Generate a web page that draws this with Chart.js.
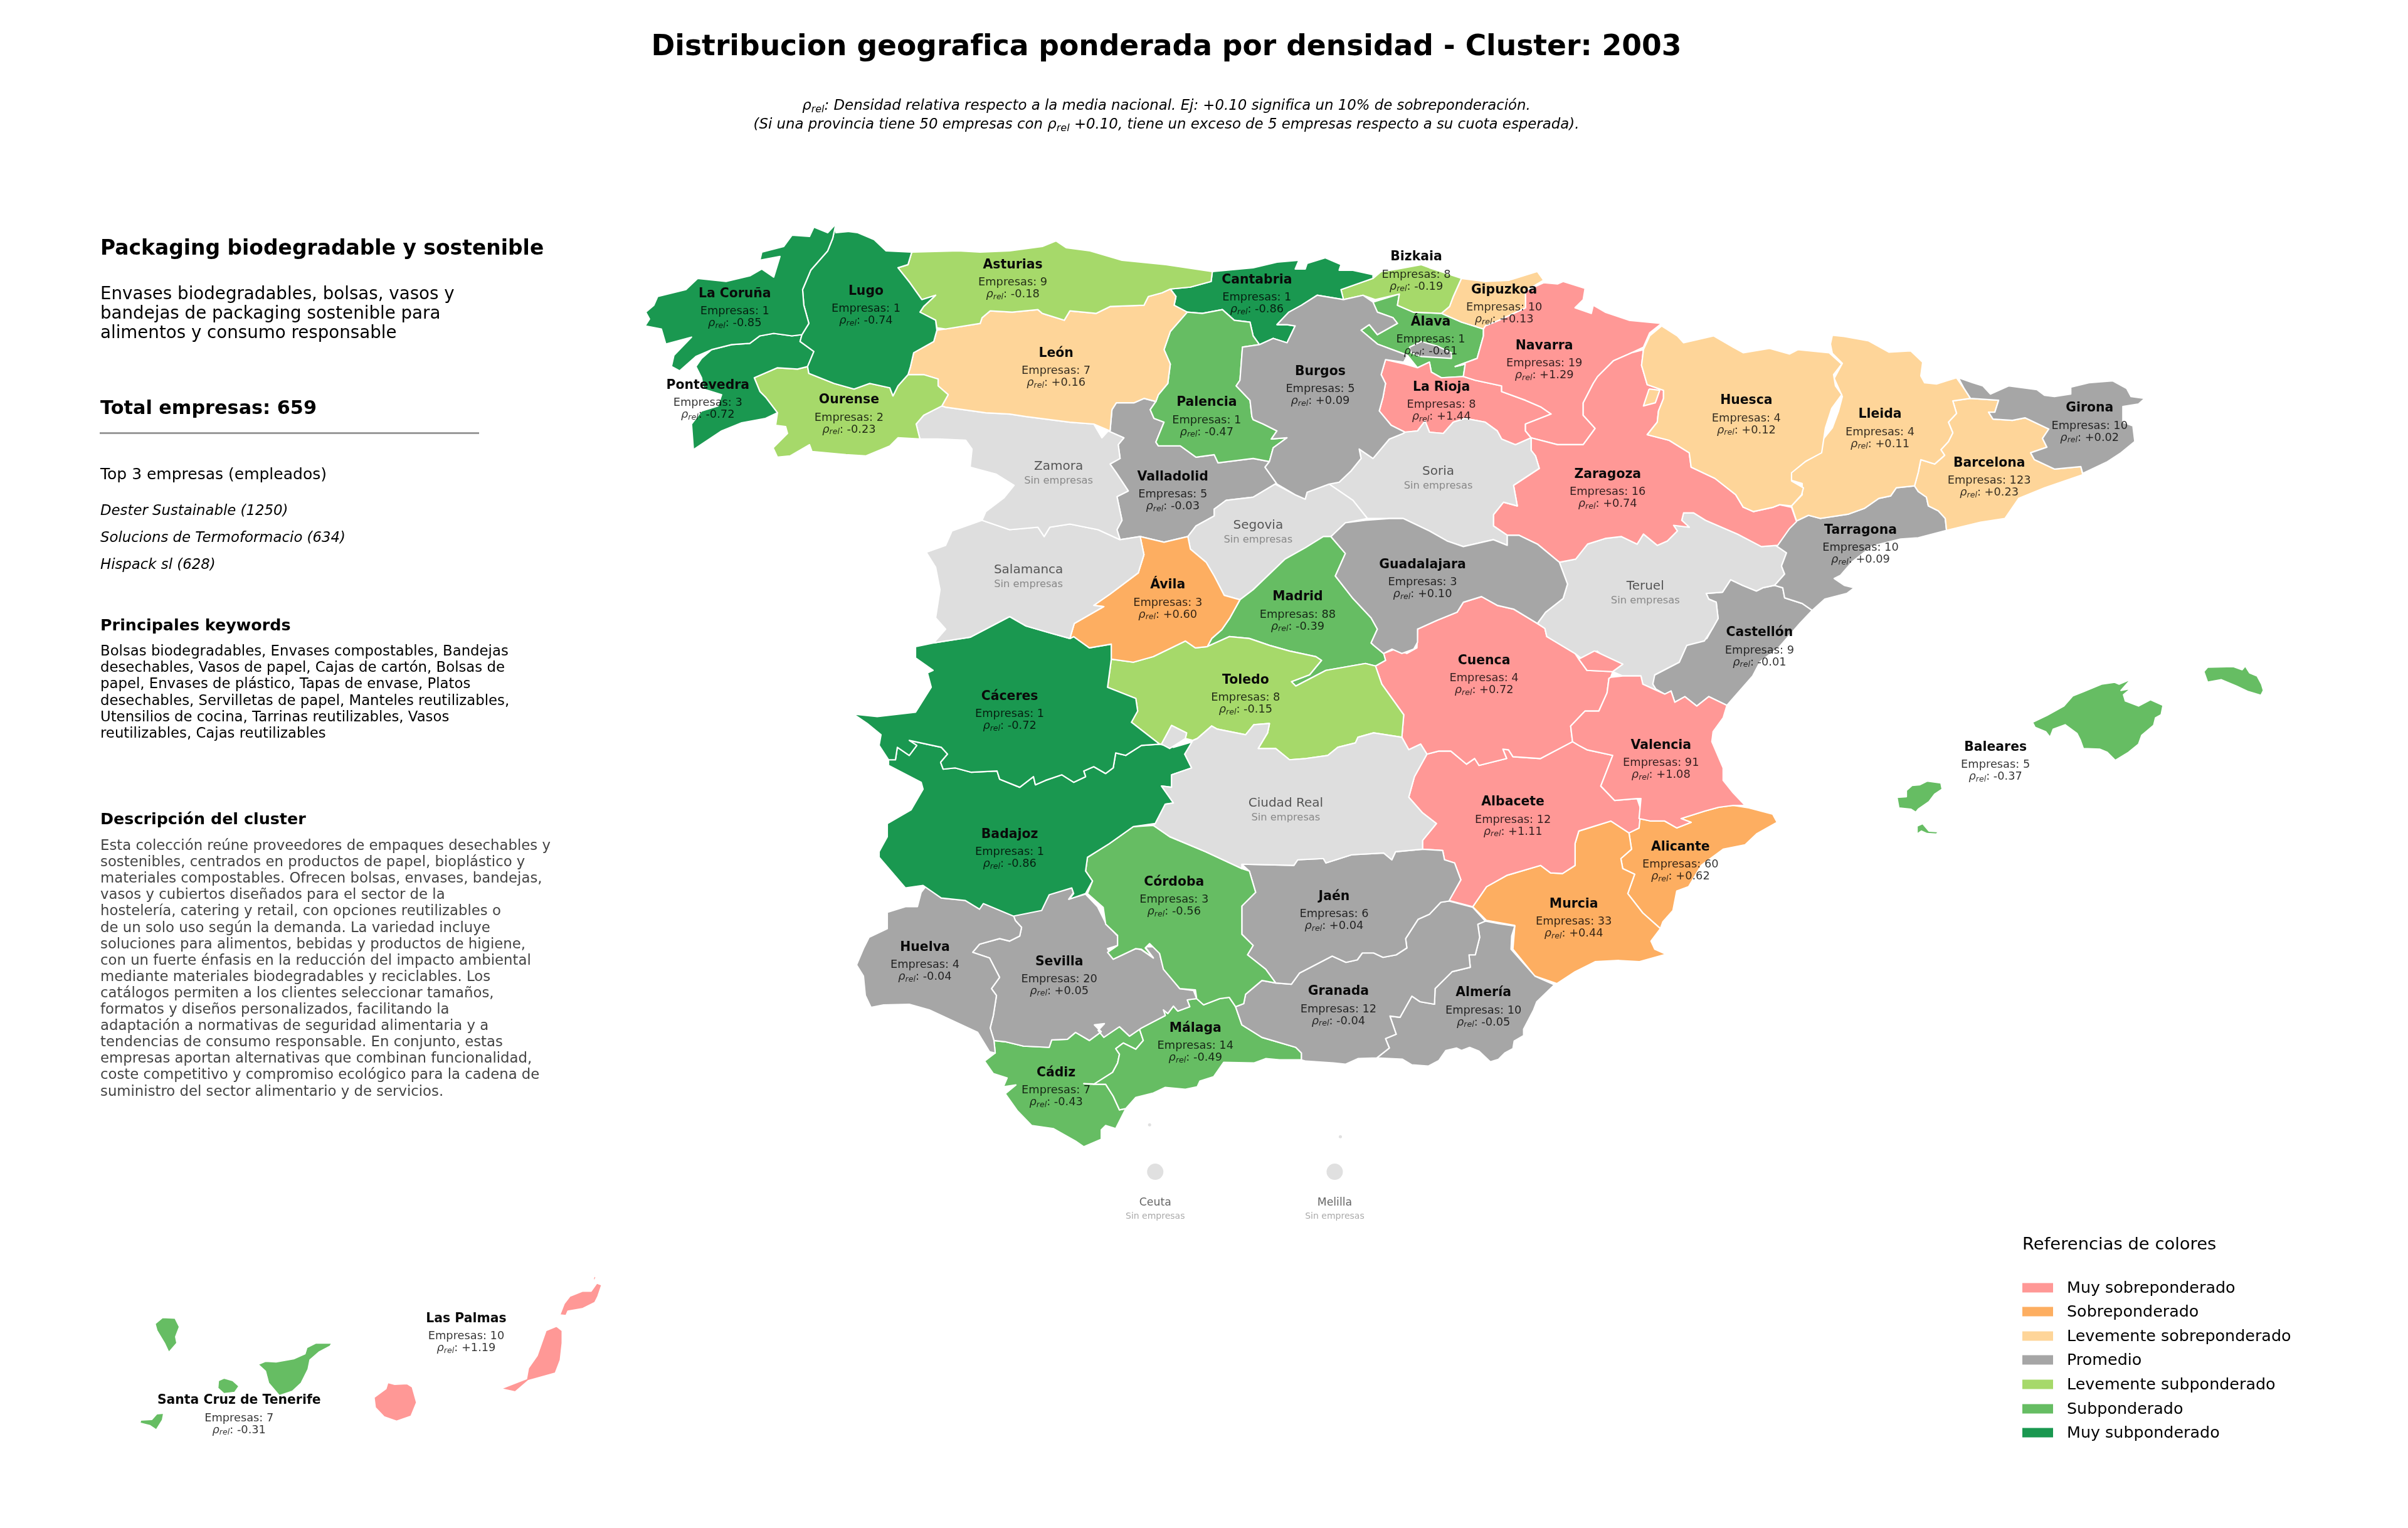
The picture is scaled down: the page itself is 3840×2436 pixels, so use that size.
<!DOCTYPE html>
<html lang="es">
<head>
<meta charset="utf-8">
<title>Distribucion geografica ponderada por densidad</title>
<script src="https://cdn.jsdelivr.net/npm/chart.js@4/dist/chart.umd.min.js"></script>
<style>
  html, body { margin: 0; background: #fff; }
  #page { position: relative; width: 3840px; height: 2436px; overflow: hidden; font-family: "DejaVu Sans", sans-serif; color: #000; }
  #map { position: absolute; left: 0; top: 0; }
  .t { position: absolute; white-space: nowrap; transform: translateY(-50%); line-height: 1; }
  .c { transform: translate(-50%, -50%); }
  sub { font-size: 70%; line-height: 0; vertical-align: -0.25em; }
  .swatch { position: absolute; left: 3225px; width: 49px; height: 15px; transform: translateY(-50%); }
</style>
</head>
<body>
<div id="page"><canvas id="map" width="3840" height="2436"></canvas></div>
<script>
const laCoruna = [[1335,353],[1322,367],[1300,358],[1293,373],[1265,371],[1252,389],[1217,398],[1214,411],[1246,405],[1236,438],[1217,425],[1198,436],[1160,445],[1115,440],[1096,458],[1051,469],[1045,483],[1032,494],[1038,505],[1031,516],[1057,521],[1064,545],[1105,534],[1077,563],[1073,581],[1086,588],[1112,565],[1137,554],[1169,546],[1198,544],[1214,532],[1236,528],[1265,532],[1281,530],[1292,512],[1284,483],[1282,458],[1295,427],[1322,396],[1330,376]];
const lugo = [[1335,353],[1335,367],[1354,365],[1370,367],[1396,378],[1415,396],[1456,398],[1450,418],[1434,423],[1453,447],[1472,474],[1494,467],[1475,485],[1469,494],[1494,507],[1496,523],[1491,541],[1459,559],[1454,581],[1450,594],[1434,612],[1426,628],[1421,615],[1389,608],[1364,617],[1332,608],[1292,592],[1290,581],[1300,557],[1278,541],[1281,530],[1292,512],[1284,483],[1282,458],[1295,427],[1322,396],[1330,376]];
const pontevedra = [[1137,554],[1121,568],[1112,581],[1121,599],[1124,617],[1153,626],[1147,644],[1121,652],[1105,673],[1108,714],[1153,684],[1185,671],[1223,664],[1242,655],[1223,630],[1214,621],[1205,599],[1242,583],[1274,585],[1290,581],[1300,557],[1278,541],[1281,530],[1265,532],[1236,528],[1214,532],[1198,544],[1169,546]];
const ourense = [[1205,599],[1242,583],[1274,585],[1290,581],[1292,592],[1332,608],[1364,617],[1389,608],[1421,615],[1426,628],[1434,612],[1450,594],[1475,594],[1498,601],[1498,612],[1514,626],[1504,644],[1475,659],[1463,673],[1469,697],[1434,695],[1421,708],[1383,724],[1351,722],[1297,717],[1293,706],[1262,724],[1242,726],[1235,711],[1258,688],[1255,677],[1239,675],[1242,655],[1223,630],[1214,621]];
const asturias = [[1456,398],[1530,396],[1565,398],[1612,396],[1664,389],[1686,380],[1702,391],[1740,396],[1791,411],[1861,418],[1935,429],[1933,445],[1900,454],[1868,457],[1855,463],[1833,469],[1826,483],[1772,485],[1750,496],[1708,492],[1699,507],[1664,496],[1657,490],[1616,494],[1581,492],[1568,503],[1565,512],[1510,521],[1496,519],[1494,507],[1469,494],[1475,485],[1494,467],[1472,474],[1453,447],[1434,423],[1450,418]];
const leon = [[1510,521],[1565,512],[1568,503],[1581,492],[1616,494],[1657,490],[1664,496],[1699,507],[1708,492],[1750,496],[1772,485],[1826,483],[1833,469],[1855,463],[1868,457],[1877,469],[1874,483],[1895,494],[1868,525],[1858,554],[1868,577],[1864,608],[1849,626],[1845,637],[1826,632],[1810,639],[1782,639],[1775,650],[1772,684],[1746,673],[1708,670],[1638,661],[1612,657],[1574,655],[1510,646],[1504,644],[1514,626],[1498,612],[1498,601],[1475,594],[1450,594],[1454,581],[1459,559],[1491,541],[1496,523]];
const zamora = [[1504,644],[1510,646],[1574,655],[1612,657],[1638,661],[1708,670],[1746,673],[1759,695],[1769,684],[1794,695],[1785,706],[1788,728],[1772,737],[1782,751],[1801,780],[1783,789],[1791,827],[1783,842],[1788,858],[1753,842],[1708,833],[1676,838],[1667,853],[1657,838],[1612,842],[1568,827],[1574,813],[1603,791],[1619,771],[1590,753],[1549,742],[1552,713],[1542,699],[1498,697],[1469,697],[1463,673],[1475,659]];
const salamanca = [[1568,827],[1612,842],[1657,838],[1667,853],[1676,838],[1708,833],[1753,842],[1788,858],[1820,853],[1826,882],[1817,911],[1772,945],[1746,963],[1762,965],[1715,992],[1708,1016],[1676,1007],[1638,996],[1612,981],[1549,1014],[1491,1023],[1510,1001],[1494,983],[1501,938],[1494,902],[1479,878],[1510,867],[1520,844]];
const avila = [[1820,853],[1858,862],[1896,853],[1900,873],[1925,894],[1938,916],[1954,947],[1979,954],[1963,983],[1950,1002],[1934,1016],[1927,1029],[1908,1031],[1892,1020],[1841,1045],[1809,1054],[1774,1049],[1774,1025],[1739,1031],[1714,1013],[1708,1016],[1715,992],[1762,965],[1746,963],[1772,945],[1817,911],[1826,882]];
const caceres = [[1462,1029],[1491,1023],[1549,1014],[1612,981],[1638,996],[1676,1007],[1708,1016],[1714,1013],[1739,1031],[1774,1025],[1774,1049],[1768,1094],[1813,1112],[1816,1132],[1806,1150],[1851,1185],[1822,1187],[1797,1203],[1781,1199],[1777,1223],[1765,1232],[1746,1221],[1730,1228],[1733,1237],[1714,1246],[1695,1234],[1669,1243],[1653,1250],[1650,1237],[1628,1254],[1596,1241],[1592,1228],[1551,1230],[1525,1223],[1506,1225],[1502,1214],[1513,1201],[1503,1190],[1452,1179],[1464,1187],[1452,1203],[1433,1190],[1430,1210],[1419,1210],[1404,1187],[1407,1170],[1385,1152],[1363,1137],[1401,1141],[1462,1134],[1487,1094],[1481,1071],[1490,1067],[1462,1047]];
const badajoz = [[1419,1210],[1419,1219],[1471,1246],[1474,1257],[1455,1290],[1417,1312],[1417,1333],[1404,1357],[1404,1366],[1446,1415],[1474,1411],[1503,1431],[1541,1435],[1564,1449],[1570,1440],[1618,1460],[1663,1451],[1675,1426],[1711,1415],[1714,1424],[1707,1433],[1733,1424],[1744,1404],[1733,1388],[1736,1366],[1771,1344],[1809,1317],[1844,1312],[1860,1281],[1873,1279],[1854,1252],[1870,1254],[1870,1234],[1902,1223],[1891,1201],[1904,1181],[1873,1190],[1851,1185],[1822,1187],[1797,1203],[1781,1199],[1777,1223],[1765,1232],[1746,1221],[1730,1228],[1733,1237],[1714,1246],[1695,1234],[1669,1243],[1653,1250],[1650,1237],[1628,1254],[1596,1241],[1592,1228],[1551,1230],[1525,1223],[1506,1225],[1502,1214],[1513,1201],[1503,1190],[1452,1179],[1464,1187],[1452,1203],[1433,1190],[1430,1210]];
const toledo = [[1774,1049],[1809,1054],[1841,1045],[1892,1020],[1908,1031],[1927,1029],[1962,1013],[1994,1016],[2026,1027],[2058,1036],[2100,1045],[2109,1051],[2090,1074],[2061,1085],[2068,1092],[2116,1067],[2179,1056],[2195,1060],[2205,1089],[2240,1138],[2237,1174],[2192,1167],[2167,1174],[2163,1183],[2135,1190],[2119,1203],[2084,1208],[2058,1210],[2036,1192],[2008,1192],[2023,1167],[2026,1152],[2001,1154],[1988,1170],[1943,1161],[1934,1156],[1911,1176],[1904,1179],[1892,1176],[1894,1167],[1870,1155],[1854,1185],[1851,1185],[1806,1150],[1816,1132],[1813,1112],[1768,1094]];
const ciudadReal = [[1904,1179],[1911,1176],[1934,1156],[1943,1161],[1988,1170],[2001,1154],[2026,1152],[2023,1167],[2008,1192],[2036,1192],[2058,1210],[2084,1208],[2119,1203],[2135,1190],[2163,1183],[2167,1174],[2192,1167],[2237,1174],[2248,1194],[2267,1185],[2277,1201],[2257,1237],[2248,1270],[2270,1295],[2292,1312],[2270,1339],[2270,1353],[2227,1357],[2221,1370],[2208,1359],[2157,1362],[2116,1375],[2112,1368],[2071,1370],[2065,1379],[1982,1377],[1982,1384],[1924,1357],[1867,1333],[1841,1315],[1844,1312],[1860,1281],[1873,1279],[1854,1252],[1870,1254],[1870,1234],[1902,1223],[1891,1201],null,[1870,1155],[1894,1167],[1892,1176],[1867,1192],[1854,1185]];
const cordoba = [[1809,1317],[1841,1315],[1867,1333],[1924,1357],[1982,1384],[1994,1388],[2004,1422],[1982,1444],[1982,1489],[2000,1507],[1991,1522],[2020,1545],[2036,1567],[2014,1563],[1988,1585],[1985,1600],[1972,1605],[1962,1590],[1947,1592],[1921,1602],[1910,1592],[1908,1578],[1883,1576],[1857,1545],[1851,1520],[1835,1504],[1828,1511],[1841,1527],[1822,1513],[1813,1512],[1777,1529],[1768,1518],[1784,1507],[1784,1491],[1765,1473],[1761,1446],[1736,1424],[1744,1404],[1733,1388],[1736,1366],[1771,1344]];
const jaen = [[1982,1377],[2065,1379],[2071,1370],[2112,1368],[2116,1375],[2157,1362],[2208,1359],[2221,1370],[2227,1357],[2270,1353],[2302,1355],[2305,1370],[2321,1375],[2331,1402],[2312,1436],[2299,1438],[2281,1457],[2263,1465],[2243,1496],[2245,1511],[2228,1522],[2207,1526],[2192,1519],[2174,1519],[2166,1530],[2148,1534],[2126,1524],[2074,1551],[2061,1569],[2036,1567],[2020,1545],[1991,1522],[2000,1507],[1982,1489],[1982,1444],[2004,1422],[1994,1388]];
const granada = [[2312,1436],[2350,1446],[2370,1468],[2358,1473],[2361,1494],[2354,1522],[2344,1522],[2346,1542],[2317,1549],[2290,1576],[2289,1601],[2266,1597],[2253,1588],[2234,1622],[2218,1620],[2228,1649],[2211,1656],[2217,1671],[2197,1687],[2167,1688],[2147,1697],[2128,1695],[2084,1692],[2077,1690],[2077,1679],[2068,1670],[2014,1654],[1982,1634],[1972,1605],[1985,1600],[1988,1585],[2014,1563],[2036,1567],[2061,1569],[2074,1551],[2126,1524],[2148,1534],[2166,1530],[2174,1519],[2192,1519],[2207,1526],[2228,1522],[2245,1511],[2243,1496],[2263,1465],[2281,1457],[2299,1438]];
const almeria = [[2370,1468],[2391,1472],[2417,1476],[2412,1492],[2411,1513],[2449,1556],[2480,1570],[2452,1597],[2447,1610],[2431,1641],[2431,1651],[2416,1660],[2414,1672],[2401,1679],[2391,1689],[2378,1693],[2360,1676],[2345,1670],[2332,1675],[2324,1671],[2307,1675],[2296,1691],[2279,1700],[2253,1698],[2238,1689],[2197,1687],[2217,1671],[2211,1656],[2228,1649],[2218,1620],[2234,1622],[2253,1588],[2266,1597],[2289,1601],[2290,1576],[2317,1549],[2346,1542],[2344,1522],[2354,1522],[2361,1494],[2358,1473]];
const huelva = [[1478,1413],[1503,1431],[1545,1435],[1564,1447],[1570,1439],[1618,1459],[1621,1467],[1631,1478],[1628,1492],[1612,1500],[1596,1496],[1564,1505],[1553,1518],[1580,1527],[1596,1558],[1583,1576],[1591,1587],[1586,1619],[1581,1639],[1587,1659],[1589,1679],[1580,1677],[1561,1646],[1484,1610],[1452,1601],[1411,1602],[1391,1606],[1382,1587],[1379,1556],[1368,1538],[1379,1512],[1388,1494],[1417,1480],[1417,1454],[1446,1445],[1465,1445],[1471,1422]];
const sevilla = [[1618,1459],[1663,1449],[1675,1425],[1711,1413],[1714,1422],[1706,1433],[1733,1425],[1752,1445],[1765,1471],[1784,1492],[1784,1507],[1768,1512],[1777,1529],[1813,1512],[1822,1514],[1841,1527],[1828,1509],[1848,1509],[1857,1543],[1883,1576],[1905,1579],[1910,1592],[1895,1594],[1899,1605],[1880,1612],[1873,1604],[1864,1616],[1857,1610],[1860,1619],[1822,1639],[1803,1652],[1787,1637],[1762,1654],[1753,1643],[1763,1632],[1747,1634],[1758,1645],[1739,1659],[1717,1646],[1704,1657],[1679,1658],[1675,1670],[1634,1668],[1605,1661],[1587,1659],[1581,1639],[1586,1619],[1591,1587],[1583,1576],[1596,1558],[1580,1527],[1553,1518],[1564,1505],[1596,1496],[1612,1500],[1628,1492],[1631,1478],[1621,1467]];
const malaga = [[1895,1594],[1910,1592],[1921,1602],[1947,1592],[1962,1590],[1972,1605],[1982,1634],[2014,1654],[2068,1670],[2077,1679],[2077,1690],[2042,1690],[2020,1688],[2001,1695],[1953,1694],[1937,1717],[1915,1724],[1911,1733],[1892,1737],[1860,1734],[1841,1743],[1813,1750],[1797,1768],[1787,1770],[1777,1748],[1765,1729],[1746,1729],[1776,1710],[1784,1695],[1787,1681],[1781,1672],[1793,1663],[1813,1673],[1825,1659],[1819,1641],[1822,1639],[1860,1619],[1857,1610],[1864,1616],[1873,1604],[1880,1612],[1899,1605]];
const cadiz = [[1587,1659],[1605,1661],[1634,1668],[1675,1670],[1679,1658],[1704,1657],[1717,1646],[1739,1659],[1758,1645],[1787,1637],[1803,1652],[1819,1641],[1825,1659],[1813,1673],[1793,1663],[1781,1672],[1787,1681],[1784,1695],[1776,1710],[1746,1729],[1730,1728],[1765,1729],[1777,1748],[1787,1770],[1797,1768],[1781,1800],[1765,1795],[1758,1802],[1758,1817],[1730,1829],[1717,1820],[1682,1800],[1647,1795],[1624,1771],[1605,1744],[1622,1730],[1602,1733],[1608,1719],[1586,1712],[1572,1692],[1589,1679]];
const guadalajara = [[2124,853],[2147,831],[2179,827],[2217,824],[2239,824],[2281,844],[2309,860],[2335,869],[2383,858],[2405,867],[2405,851],[2424,851],[2453,865],[2488,894],[2501,929],[2494,952],[2466,974],[2453,992],[2415,969],[2389,963],[2364,949],[2335,958],[2325,974],[2293,987],[2262,1001],[2262,1022],[2256,1033],[2237,1040],[2221,1033],[2208,1040],[2192,1027],[2188,1023],[2198,1001],[2188,983],[2159,952],[2131,916],[2147,880]];
const madrid = [[2124,853],[2147,880],[2131,916],[2159,952],[2188,983],[2198,1001],[2188,1023],[2208,1040],[2211,1051],[2195,1060],[2179,1056],[2116,1067],[2068,1092],[2061,1085],[2090,1074],[2109,1051],[2100,1045],[2058,1036],[2026,1027],[1994,1016],[1962,1013],[1927,1029],[1934,1016],[1950,1002],[1963,983],[1979,954],[2000,938],[2051,889],[2083,871],[2112,853]];
const segovia = [[1896,853],[1909,836],[1938,820],[1938,809],[1957,795],[2000,790],[2035,769],[2067,786],[2083,793],[2086,782],[2121,769],[2159,795],[2182,824],[2147,831],[2124,853],[2112,853],[2083,871],[2051,889],[2000,938],[1979,954],[1954,947],[1938,916],[1925,894],[1900,873]];
const soria = [[2121,769],[2137,766],[2156,748],[2172,728],[2169,713],[2191,728],[2217,697],[2239,688],[2242,686],[2262,684],[2274,668],[2281,686],[2303,688],[2319,670],[2338,664],[2370,670],[2389,684],[2396,697],[2418,706],[2443,695],[2443,715],[2450,724],[2456,744],[2415,771],[2421,804],[2399,798],[2383,818],[2383,836],[2405,851],[2405,867],[2383,858],[2335,869],[2309,860],[2281,844],[2239,824],[2217,824],[2182,824],[2159,795]];
const zaragoza = [[2443,695],[2485,706],[2526,706],[2545,680],[2526,659],[2526,639],[2542,608],[2549,597],[2574,572],[2603,559],[2622,554],[2619,579],[2628,610],[2654,619],[2654,632],[2646,652],[2644,670],[2628,690],[2663,699],[2695,719],[2698,742],[2736,760],[2769,786],[2781,806],[2797,813],[2829,806],[2839,802],[2858,806],[2866,829],[2855,840],[2836,867],[2810,869],[2772,849],[2721,827],[2702,815],[2686,815],[2683,827],[2695,838],[2670,835],[2676,844],[2660,860],[2644,867],[2622,849],[2612,865],[2587,853],[2561,856],[2533,865],[2514,889],[2488,894],[2453,865],[2424,851],[2405,851],[2383,836],[2383,818],[2399,798],[2421,804],[2415,771],[2456,744],[2450,724],[2443,715]];
const huesca = [[2651,516],[2676,532],[2686,543],[2734,532],[2765,550],[2781,559],[2823,552],[2855,561],[2868,554],[2918,559],[2938,577],[2925,594],[2928,612],[2938,626],[2922,648],[2912,679],[2906,719],[2880,733],[2858,751],[2858,764],[2877,775],[2874,786],[2858,804],[2839,802],[2829,806],[2797,813],[2781,806],[2769,786],[2736,760],[2698,742],[2695,719],[2663,699],[2628,690],[2644,670],[2646,652],[2654,632],[2654,619],[2628,610],[2619,579],[2622,554],[2632,532],null,[2631,617],[2648,619],[2641,639],[2622,644]];
const lleida = [[2923,531],[2942,533],[2981,540],[3013,558],[3048,556],[3067,574],[3064,596],[3070,607],[3089,609],[3108,603],[3121,599],[3134,618],[3143,632],[3115,636],[3121,656],[3108,670],[3115,687],[3108,701],[3096,714],[3102,723],[3086,737],[3064,730],[3060,750],[3054,772],[3025,775],[3016,788],[2997,792],[2974,808],[2949,817],[2904,824],[2885,819],[2866,828],[2858,804],[2875,786],[2875,768],[2858,763],[2856,748],[2885,730],[2904,719],[2904,703],[2923,679],[2933,652],[2939,629],[2926,600],[2939,576],[2923,560],[2920,545]];
const girona = [[3124,599],[3147,607],[3163,612],[3175,625],[3204,612],[3249,618],[3261,627],[3277,629],[3303,625],[3303,614],[3332,607],[3370,604],[3392,616],[3399,629],[3421,632],[3411,641],[3386,645],[3386,670],[3402,676],[3405,701],[3383,719],[3360,734],[3322,752],[3319,741],[3277,745],[3245,730],[3239,719],[3265,710],[3258,696],[3268,681],[3249,672],[3230,663],[3210,667],[3179,665],[3172,654],[3182,654],[3188,635],[3143,632],[3134,618]];
const barcelona = [[3115,636],[3143,632],[3188,635],[3182,654],[3172,654],[3179,665],[3210,667],[3230,663],[3249,672],[3268,681],[3258,696],[3265,710],[3239,719],[3245,730],[3277,745],[3319,741],[3322,754],[3261,775],[3220,792],[3198,824],[3159,830],[3105,843],[3103,824],[3092,812],[3076,804],[3073,790],[3060,781],[3054,772],[3060,750],[3064,730],[3086,737],[3102,723],[3096,714],[3108,701],[3115,687],[3108,670],[3121,656]];
const tarragona = [[2866,828],[2885,819],[2904,824],[2949,817],[2974,808],[2997,792],[3016,788],[3025,775],[3054,772],[3060,781],[3073,790],[3076,804],[3092,812],[3103,824],[3105,843],[3060,855],[3032,857],[2987,868],[2955,893],[2936,915],[2926,920],[2942,931],[2958,935],[2946,944],[2911,953],[2891,971],[2875,960],[2847,951],[2844,935],[2831,931],[2847,913],[2842,900],[2850,879],[2834,868],[2833,857],[2853,841]];
const teruel = [[2488,894],[2514,889],[2533,865],[2561,856],[2587,853],[2612,865],[2622,849],[2644,867],[2660,860],[2676,844],[2670,835],[2695,838],[2683,827],[2686,815],[2702,815],[2721,827],[2772,849],[2810,869],[2836,867],[2834,868],[2850,879],[2842,900],[2847,913],[2831,931],[2812,935],[2802,940],[2780,931],[2761,922],[2748,942],[2722,944],[2726,953],[2738,958],[2741,984],[2732,1000],[2719,1020],[2691,1027],[2679,1054],[2640,1074],[2637,1089],[2643,1099],[2621,1089],[2618,1076],[2589,1076],[2573,1069],[2589,1057],[2567,1051],[2548,1036],[2545,1045],[2522,1047],[2513,1040],[2468,1013],[2465,1000],[2453,992],[2466,974],[2494,952],[2501,929]];
const castellon = [[2831,931],[2844,935],[2847,951],[2875,960],[2891,971],[2872,991],[2837,1031],[2808,1053],[2796,1076],[2755,1123],[2726,1109],[2707,1124],[2688,1109],[2672,1118],[2666,1100],[2656,1105],[2637,1094],[2637,1076],[2679,1054],[2691,1027],[2723,1016],[2732,1000],[2741,984],[2738,958],[2726,953],[2722,944],[2748,942],[2761,922],[2780,931],[2802,940],[2812,935]];
const valencia = [[2570,1078],[2589,1076],[2618,1076],[2621,1089],[2643,1099],[2656,1105],[2666,1100],[2672,1118],[2688,1109],[2707,1124],[2726,1109],[2755,1123],[2749,1143],[2733,1165],[2731,1181],[2749,1223],[2749,1243],[2765,1263],[2784,1283],[2765,1283],[2742,1286],[2720,1292],[2682,1304],[2698,1310],[2675,1319],[2656,1308],[2634,1308],[2615,1304],[2618,1272],[2612,1272],[2576,1275],[2554,1252],[2573,1203],[2532,1194],[2519,1187],[2509,1181],[2506,1156],[2529,1132],[2551,1132],[2564,1103],[2567,1080],null,[2544,1036],[2589,1057],[2573,1069],[2532,1067],[2519,1049]];
const cuenca = [[2226,1033],[2245,1040],[2261,1031],[2262,1001],[2293,987],[2325,974],[2335,958],[2364,949],[2389,963],[2415,969],[2453,992],[2465,1000],[2468,1013],[2513,1040],[2519,1049],[2532,1067],[2573,1069],[2570,1078],[2567,1080],[2564,1103],[2551,1132],[2529,1132],[2506,1156],[2509,1181],[2458,1208],[2414,1205],[2407,1194],[2398,1193],[2404,1208],[2360,1219],[2353,1208],[2340,1217],[2315,1196],[2296,1196],[2277,1201],[2267,1185],[2248,1194],[2237,1174],[2240,1138],[2205,1089],[2195,1060],[2211,1051],[2208,1040]];
const albacete = [[2277,1201],[2296,1196],[2315,1196],[2340,1217],[2353,1208],[2360,1219],[2404,1208],[2398,1193],[2407,1194],[2414,1205],[2458,1208],[2509,1181],[2519,1187],[2532,1194],[2573,1203],[2554,1252],[2576,1275],[2612,1272],[2618,1290],[2615,1319],[2599,1327],[2570,1308],[2535,1319],[2519,1324],[2513,1344],[2513,1379],[2493,1392],[2474,1391],[2458,1379],[2404,1395],[2372,1413],[2350,1445],[2312,1435],[2331,1402],[2321,1375],[2305,1370],[2302,1355],[2270,1353],[2270,1339],[2292,1312],[2270,1295],[2248,1270],[2257,1237]];
const murcia = [[2599,1327],[2603,1353],[2586,1368],[2589,1384],[2608,1393],[2597,1424],[2621,1455],[2649,1480],[2634,1500],[2640,1513],[2658,1521],[2615,1533],[2583,1531],[2545,1533],[2513,1549],[2484,1568],[2449,1556],[2414,1513],[2417,1475],[2372,1467],[2350,1445],[2372,1413],[2404,1395],[2458,1379],[2474,1391],[2493,1392],[2513,1379],[2513,1344],[2519,1324],[2535,1319],[2570,1308]];
const alicante = [[2615,1304],[2634,1308],[2656,1308],[2675,1319],[2698,1310],[2682,1304],[2720,1292],[2742,1286],[2765,1283],[2790,1287],[2828,1297],[2835,1310],[2803,1328],[2784,1346],[2749,1353],[2714,1379],[2694,1413],[2675,1420],[2669,1451],[2653,1469],[2649,1480],[2621,1455],[2597,1424],[2608,1393],[2589,1384],[2586,1368],[2603,1353],[2599,1327],[2615,1319]];
const palencia = [[1895,494],[1919,496],[1951,490],[1970,507],[1995,510],[2000,532],[2010,546],[1983,550],[1979,603],[1973,612],[1995,635],[1998,661],[2000,666],[2016,673],[2038,684],[2029,697],[2054,695],[2032,711],[2026,733],[2000,728],[1944,735],[1938,722],[1909,726],[1884,708],[1849,708],[1845,702],[1858,670],[1842,664],[1836,650],[1845,637],[1849,626],[1864,608],[1868,577],[1858,554],[1868,525]];
const valladolid = [[1775,650],[1782,639],[1810,639],[1826,632],[1845,637],[1836,650],[1842,664],[1858,670],[1845,702],[1849,708],[1884,708],[1909,726],[1938,722],[1944,735],[2000,728],[2026,733],[2019,742],[2038,769],[2035,769],[2000,790],[1957,795],[1938,809],[1938,820],[1909,836],[1896,853],[1858,862],[1820,853],[1788,858],[1783,842],[1791,827],[1783,789],[1801,780],[1782,751],[1772,737],[1788,728],[1785,706],[1794,695],[1769,684],[1772,684]];
const burgos = [[2102,467],[2144,474],[2175,467],[2191,478],[2198,494],[2223,503],[2230,512],[2198,530],[2185,514],[2172,523],[2198,545],[2246,563],[2240,574],[2211,570],[2204,594],[2211,608],[2207,630],[2201,652],[2220,675],[2242,686],[2239,688],[2217,697],[2191,728],[2169,713],[2172,728],[2156,748],[2137,766],[2121,769],[2086,782],[2083,793],[2067,786],[2038,769],[2019,742],[2026,733],[2032,711],[2054,695],[2029,697],[2038,684],[2016,673],[2000,666],[1998,661],[1995,635],[1973,612],[1979,603],[1983,550],[2010,546],[2032,536],[2054,543],[2067,516],[2054,514],[2038,514],[2057,494],[2077,483],null,[2249,550],[2268,541],[2293,548],[2316,559],[2316,568],[2268,565],[2252,559]];
const cantabria = [[1935,429],[2000,423],[2038,414],[2073,411],[2067,425],[2083,425],[2086,416],[2115,407],[2140,418],[2137,427],[2159,427],[2191,434],[2191,440],[2140,458],[2144,474],[2102,467],[2077,483],[2057,494],[2038,514],[2054,514],[2067,516],[2054,543],[2032,536],[2010,546],[2000,532],[1995,510],[1970,507],[1951,490],[1919,496],[1895,494],[1874,483],[1877,469],[1868,457],[1900,454],[1933,445]];
const bizkaia = [[2140,458],[2191,440],[2204,429],[2230,425],[2268,418],[2281,423],[2332,440],[2319,469],[2313,485],[2300,496],[2255,494],[2230,483],[2233,465],[2195,474],[2175,467],[2144,474]];
const gipuzkoa = [[2332,440],[2370,445],[2408,443],[2453,429],[2463,443],[2434,460],[2434,487],[2392,507],[2370,516],[2367,521],[2332,510],[2300,496],[2313,485],[2319,469]];
const navarra = [[2463,447],[2485,449],[2494,445],[2529,456],[2526,474],[2513,487],[2539,496],[2542,483],[2561,494],[2599,507],[2651,512],[2632,527],[2622,550],[2603,559],[2574,572],[2549,597],[2542,608],[2526,639],[2526,659],[2545,680],[2526,706],[2485,706],[2443,695],[2434,684],[2434,673],[2475,657],[2459,646],[2434,635],[2396,621],[2396,612],[2354,603],[2335,597],[2338,577],[2322,581],[2357,568],[2367,532],[2367,521],[2370,516],[2392,507],[2434,487],[2434,460]];
const laRioja = [[2211,570],[2242,577],[2262,583],[2281,574],[2284,590],[2300,599],[2335,597],[2354,603],[2396,612],[2396,621],[2434,635],[2459,646],[2475,657],[2434,673],[2434,684],[2443,695],[2418,706],[2396,697],[2389,684],[2370,670],[2338,664],[2319,670],[2303,688],[2281,686],[2274,668],[2262,684],[2242,686],[2220,675],[2201,652],[2207,630],[2211,608],[2204,594]];
const alava = [[2191,478],[2233,465],[2230,483],[2255,494],[2300,496],[2332,510],[2367,521],[2367,532],[2357,568],[2322,581],[2338,577],[2335,597],[2300,599],[2284,590],[2281,574],[2262,583],[2246,563],[2198,545],[2172,523],[2185,514],[2198,530],[2230,512],[2223,503],[2198,494]];
const baleares = [[3242,1150],[3265,1139],[3292,1124],[3306,1108],[3323,1101],[3352,1089],[3373,1086],[3380,1089],[3399,1081],[3383,1099],[3399,1096],[3387,1106],[3390,1116],[3411,1124],[3430,1114],[3450,1123],[3447,1138],[3438,1143],[3435,1155],[3416,1171],[3411,1185],[3395,1198],[3374,1211],[3361,1198],[3349,1193],[3323,1192],[3318,1178],[3313,1168],[3294,1154],[3275,1161],[3270,1174],[3263,1165],[3246,1158],null,
  [3515,1069],[3521,1062],[3562,1061],[3576,1066],[3581,1060],[3588,1071],[3600,1076],[3607,1089],[3610,1099],[3606,1107],[3586,1101],[3567,1092],[3543,1082],[3521,1086],null,
  [3026,1270],[3041,1269],[3041,1259],[3050,1251],[3062,1250],[3074,1244],[3096,1247],[3098,1257],[3086,1265],[3077,1277],[3060,1289],[3056,1294],[3048,1289],[3029,1287],null,
  [3058,1316],[3067,1312],[3077,1324],[3092,1325],[3089,1329],[3074,1328],[3065,1324],[3058,1329]];
const santaCruz = [[250,2112],[262,2102],[282,2103],[289,2117],[283,2133],[285,2143],[272,2158],[265,2143],[253,2123],null,
  [414,2177],[426,2172],[443,2173],[471,2168],[489,2160],[492,2150],[506,2143],[532,2143],[529,2148],[512,2157],[497,2170],[494,2185],[483,2207],[469,2220],[448,2227],[431,2207],[426,2188],null,
  [351,2203],[360,2199],[374,2203],[384,2212],[377,2222],[360,2224],[350,2215],null,
  [227,2266],[245,2265],[253,2256],[264,2255],[262,2266],[252,2282],[242,2275],[226,2271]];
const lasPalmas = [[599,2230],[618,2216],[621,2206],[632,2209],[652,2208],[660,2213],[667,2238],[658,2260],[635,2268],[615,2261],[601,2246],null,
  [801,2216],[842,2200],[845,2183],[859,2163],[873,2123],[890,2116],[899,2123],[899,2143],[896,2170],[888,2191],[845,2203],[824,2221],null,
  [895,2098],[902,2080],[911,2068],[931,2060],[945,2060],[954,2047],[962,2050],[956,2068],[951,2078],[931,2088],[908,2092],[905,2099],null,
  [950,2035],[953,2038],[951,2042],[948,2042]];
const ceutaMelilla = [[1844,1869],[2130,1869]];
const islets = [[1835,1794],[2139,1813]];

// province tables: same order everywhere, first ones are painted last (on top)
const provincias = ['Burgos','Huesca','Ciudad Real','Valencia','La Coruña','Lugo','Pontevedra','Ourense','Asturias','León','Zamora','Salamanca','Ávila','Cáceres','Badajoz','Toledo','Córdoba','Jaén','Granada','Almería','Huelva','Sevilla','Málaga','Cádiz','Guadalajara','Madrid','Segovia','Soria','Zaragoza','Lleida','Girona','Barcelona','Tarragona','Teruel','Castellón','Cuenca','Albacete','Murcia','Alicante','Palencia','Valladolid','Cantabria','Bizkaia','Gipuzkoa','Navarra','La Rioja','Álava','Baleares','Santa Cruz de Tenerife','Las Palmas'];
const contornos = [burgos,huesca,ciudadReal,valencia,laCoruna,lugo,pontevedra,ourense,asturias,leon,zamora,salamanca,avila,caceres,badajoz,toledo,cordoba,jaen,granada,almeria,huelva,sevilla,malaga,cadiz,guadalajara,madrid,segovia,soria,zaragoza,lleida,girona,barcelona,tarragona,teruel,castellon,cuenca,albacete,murcia,alicante,palencia,valladolid,cantabria,bizkaia,gipuzkoa,navarra,laRioja,alava,baleares,santaCruz,lasPalmas];
const empresas = [5,4,null,91,1,1,3,2,9,7,null,null,3,1,1,8,3,6,12,10,4,20,14,7,3,88,null,null,16,4,10,123,10,null,9,4,12,33,60,1,5,1,8,10,19,8,1,5,7,10];
const rhoRel = ['+0.09','+0.12',null,'+1.08','-0.85','-0.74','-0.72','-0.23','-0.18','+0.16',null,null,'+0.60','-0.72','-0.86','-0.15','-0.56','+0.04','-0.04','-0.05','-0.04','+0.05','-0.49','-0.43','+0.10','-0.39',null,null,'+0.74','+0.11','+0.02','+0.23','+0.09',null,'-0.01','+0.72','+1.11','+0.44','+0.62','-0.47','-0.03','-0.86','-0.19','+0.13','+1.29','+1.44','-0.61','-0.37','-0.31','+1.19'];
// index into niveles, -1 = sin empresas
const nivel = [3,2,-1,0,6,6,6,4,4,2,-1,-1,1,6,6,4,5,3,3,3,3,3,5,5,3,5,-1,-1,0,2,3,2,3,-1,3,0,0,1,1,5,3,6,4,2,0,0,5,5,5,0];
const etiquetaX = [2107,2786,2052,2650,1174,1383,1131,1356,1617,1686,1690,1642,1864,1612,1612,1988,1874,2129,2136,2367,1477,1691,1908,1686,2270,2071,2008,2295,2565,2999,3333,3173,2968,2625,2807,2368,2414,2511,2681,1926,1872,2006,2260,2400,2464,2300,2283,3183,384,746];
const etiquetaY = [589,636,1280,1187,465,461,611,635,419,560,741,907,931,1109,1330,1083,1406,1429,1581,1583,1510,1533,1640,1711,898,950,835,749,754,658,648,736,843,933,1007,1052,1278,1441,1350,639,758,443,406,459,548,614,510,1190,2235,2104];

const niveles = ['Muy sobreponderado','Sobreponderado','Levemente sobreponderado','Promedio','Levemente subponderado','Subponderado','Muy subponderado'];
const colores = ['#ff9896','#fdae61','#fed599','#a6a6a6','#a6d96a','#66bd63','#1a9850'];
const sinDatos = '#dedede';

const topEmpresas = ['Dester Sustainable (1250)','Solucions de Termoformacio (634)','Hispack sl (628)'];
const resumen = ['Envases biodegradables, bolsas, vasos y','bandejas de packaging sostenible para','alimentos y consumo responsable'];
const keywords = ['Bolsas biodegradables, Envases compostables, Bandejas','desechables, Vasos de papel, Cajas de cartón, Bolsas de','papel, Envases de plástico, Tapas de envase, Platos','desechables, Servilletas de papel, Manteles reutilizables,','Utensilios de cocina, Tarrinas reutilizables, Vasos','reutilizables, Cajas reutilizables'];
const descripcion = ['Esta colección reúne proveedores de empaques desechables y','sostenibles, centrados en productos de papel, bioplástico y','materiales compostables. Ofrecen bolsas, envases, bandejas,','vasos y cubiertos diseñados para el sector de la','hostelería, catering y retail, con opciones reutilizables o','de un solo uso según la demanda. La variedad incluye','soluciones para alimentos, bebidas y productos de higiene,','con un fuerte énfasis en la reducción del impacto ambiental','mediante materiales biodegradables y reciclables. Los','catálogos permiten a los clientes seleccionar tamaños,','formatos y diseños personalizados, facilitando la','adaptación a normativas de seguridad alimentaria y a','tendencias de consumo responsable. En conjunto, estas','empresas aportan alternativas que combinan funcionalidad,','coste competitivo y compromiso ecológico para la cadena de','suministro del sector alimentario y de servicios.'];

function aPuntos(contorno) {
    let puntos = [];
    let inicio = null;
    contorno.concat([null]).forEach(function (p) {
        if (p === null) {
            puntos.push({x: inicio[0], y: inicio[1]});
            puntos.push({x: NaN, y: NaN});
            inicio = null;
            return;
        }
        if (!inicio) inicio = p;
        puntos.push({x: p[0], y: p[1]});
    });
    return puntos;
}

const FONT = '"DejaVu Sans"';

function rhoLine(ctx, x, y, valor) {
    const resto = ': ' + valor;
    ctx.font = 'italic 17.8px ' + FONT;
    const wr = ctx.measureText('ρ').width;
    ctx.font = 'italic 12.6px ' + FONT;
    const ws = ctx.measureText('rel').width;
    ctx.font = '17.8px ' + FONT;
    const wv = ctx.measureText(resto).width;
    let cx = x - (wr + ws + wv) / 2;
    ctx.textAlign = 'left';
    ctx.font = 'italic 17.8px ' + FONT;
    ctx.fillText('ρ', cx, y);
    cx += wr;
    ctx.font = 'italic 12.6px ' + FONT;
    ctx.fillText('rel', cx, y + 4);
    cx += ws;
    ctx.font = '17.8px ' + FONT;
    ctx.fillText(resto, cx, y);
    ctx.textAlign = 'center';
}

const etiquetas = {
    id: 'etiquetas',
    afterDatasetsDraw(chart) {
        const ctx = chart.ctx;
        const sx = chart.scales.x;
        const sy = chart.scales.y;
        ctx.save();
        ctx.textAlign = 'center';
        ctx.textBaseline = 'middle';
        provincias.forEach(function (nombre, i) {
            const x = sx.getPixelForValue(etiquetaX[i]);
            const y = sy.getPixelForValue(etiquetaY[i]);
            if (empresas[i] === null) {
                ctx.fillStyle = '#555';
                ctx.font = '20px ' + FONT;
                ctx.fillText(nombre, x, y);
                ctx.fillStyle = '#888';
                ctx.font = '16.3px ' + FONT;
                ctx.fillText('Sin empresas', x, y + 23);
                return;
            }
            ctx.fillStyle = '#0a0a0a';
            ctx.font = 'bold 20.4px ' + FONT;
            ctx.fillText(nombre, x, y);
            ctx.fillStyle = 'rgba(0,0,0,0.8)';
            ctx.font = '17.8px ' + FONT;
            ctx.fillText('Empresas: ' + empresas[i], x, y + 28);
            rhoLine(ctx, x, y + 47, rhoRel[i]);
        });
        ['Ceuta', 'Melilla'].forEach(function (nombre, i) {
            const x = sx.getPixelForValue(ceutaMelilla[i][0]);
            const y = sy.getPixelForValue(ceutaMelilla[i][1]);
            ctx.fillStyle = '#666';
            ctx.font = '17.3px ' + FONT;
            ctx.fillText(nombre, x, y + 49);
            ctx.fillStyle = '#aaa';
            ctx.font = '14px ' + FONT;
            ctx.fillText('Sin empresas', x, y + 71);
        });
        ctx.restore();
    }
};

const datasets = provincias.map(function (nombre, i) {
    return {
        label: nombre,
        data: aPuntos(contornos[i]),
        showLine: true,
        fill: 'shape',
        spanGaps: false,
        tension: 0,
        backgroundColor: nivel[i] < 0 ? sinDatos : colores[nivel[i]],
        borderColor: '#ffffff',
        borderWidth: 2.2,
        borderJoinStyle: 'round',
        pointRadius: 0
    };
});
datasets.push({label: 'Ceuta y Melilla', data: ceutaMelilla.map(function (p) { return {x: p[0], y: p[1]}; }), pointRadius: 13, pointBackgroundColor: '#e0e0e0', pointBorderWidth: 0, showLine: false});
datasets.push({label: 'Islotes', data: islets.map(function (p) { return {x: p[0], y: p[1]}; }), pointRadius: 2.5, pointBackgroundColor: '#e0e0e0', pointBorderWidth: 0, showLine: false});

new Chart(document.getElementById('map').getContext('2d'), {
    type: 'scatter',
    data: {datasets: datasets},
    plugins: [etiquetas],
    options: {
        responsive: false,
        animation: false,
        devicePixelRatio: 1,
        layout: {padding: 0},
        plugins: {legend: {display: false}, tooltip: {enabled: false}, title: {display: false}},
        scales: {
            x: {type: 'linear', min: 16, max: 3827.4, display: false},
            y: {type: 'linear', min: 7.8, max: 2425.7, reverse: true, display: false}
        }
    }
});

// side panel, headline and colour key are plain page text
const page = document.getElementById('page');
function texto(html, x, y, css, centrado) {
    const el = document.createElement('div');
    el.className = centrado ? 't c' : 't';
    el.style.cssText = 'left:' + x + 'px;top:' + y + 'px;' + css;
    el.innerHTML = html;
    page.appendChild(el);
}
const rho = '<i>ρ<sub>rel</sub></i>';
texto('Distribucion geografica ponderada por densidad - Cluster: 2003', 1860, 73, 'font-size:45.6px;font-weight:bold;', true);
texto('<i>' + rho + ': Densidad relativa respecto a la media nacional. Ej: +0.10 significa un 10% de sobreponderación.</i>', 1860, 167, 'font-size:22.85px;', true);
texto('<i>(Si una provincia tiene 50 empresas con ' + rho + ' +0.10, tiene un exceso de 5 empresas respecto a su cuota esperada).</i>', 1860, 197, 'font-size:22.85px;', true);

texto('Packaging biodegradable y sostenible', 160, 395, 'font-size:32.95px;font-weight:bold;');
resumen.forEach(function (l, i) { texto(l, 160, 468 + i * 31, 'font-size:27.7px;'); });
texto('Total empresas: 659', 160, 650, 'font-size:30.3px;font-weight:bold;');
const regla = document.createElement('div');
regla.style.cssText = 'position:absolute;left:159px;top:689px;width:605px;height:3px;background:#999;';
page.appendChild(regla);
texto('Top 3 empresas (empleados)', 160, 755, 'font-size:25px;');
topEmpresas.forEach(function (l, i) { texto(l, 160, 813 + i * 43, 'font-size:22.8px;font-style:italic;'); });
texto('Principales keywords', 160, 997, 'font-size:25.4px;font-weight:bold;');
keywords.forEach(function (l, i) { texto(l, 160, 1037 + i * 26.2, 'font-size:22.8px;'); });
texto('Descripción del cluster', 160, 1306, 'font-size:25.4px;font-weight:bold;');
descripcion.forEach(function (l, i) { texto(l, 160, 1347 + i * 26.1, 'font-size:22.8px;color:#444;'); });

texto('Referencias de colores', 3225, 1983, 'font-size:27.4px;');
niveles.forEach(function (l, i) {
    const y = 2052.5 + i * 38.6;
    const s = document.createElement('div');
    s.className = 'swatch';
    s.style.top = y + 'px';
    s.style.background = colores[i];
    page.appendChild(s);
    texto(l, 3296, y, 'font-size:25.4px;');
});
</script>
</body>
</html>
